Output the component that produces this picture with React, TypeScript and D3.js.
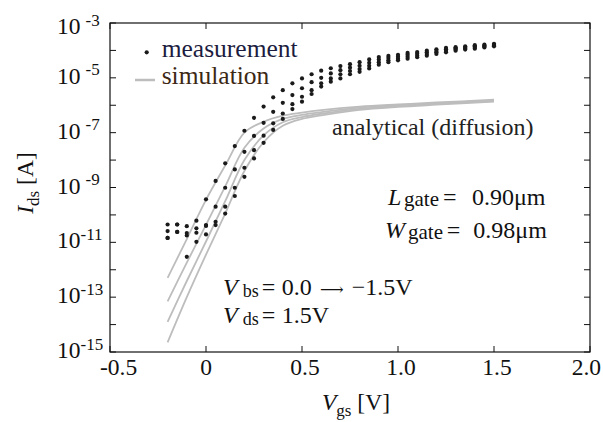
import React from "react";
import * as d3 from "d3";

// Gate voltage grid of the measured points [V]
const vgsMeas = [
  -0.2, -0.15, -0.1, -0.05, 0, 0.05, 0.1, 0.15, 0.2, 0.25, 0.3, 0.35, 0.4, 0.45,
  0.5, 0.55, 0.6, 0.65, 0.7, 0.75, 0.8, 0.85, 0.9, 0.95, 1.0, 1.05, 1.1, 1.15,
  1.2, 1.25, 1.3, 1.35, 1.4, 1.45, 1.5,
];
// Measured log10(Ids [A]) for the four body biases
const measLog1 = [
  -10.59, -10.35, -10.66, -10.21, -9.43, -8.76, -8.12, -7.49, -6.93, -6.46, -6.05, -5.71, -5.45, -5.2,
  -5.02, -4.87, -4.74, -4.65, -4.57, -4.5, -4.43, -4.33, -4.24, -4.2, -4.16, -4.09, -4.06, -4.01,
  -3.96, -3.91, -3.88, -3.85, -3.81, -3.79, -3.76,
];
const measLog2 = [
  -10.35, -10.62, -10.41, -10.49, -10.37, -9.7, -9.01, -8.34, -7.7, -7.12, -6.64, -6.24, -5.91, -5.63,
  -5.38, -5.16, -5.0, -4.84, -4.72, -4.63, -4.56, -4.45, -4.33, -4.28, -4.23, -4.16, -4.12, -4.07,
  -4.02, -3.96, -3.92, -3.89, -3.85, -3.82, -3.79,
];
const measLog3 = [
  -10.84, -10.35, -11.53, -10.65, -10.71, -10.25, -9.7, -9.01, -8.28, -7.64, -7.11, -6.66, -6.3, -5.96,
  -5.69, -5.45, -5.2, -5.02, -4.87, -4.75, -4.68, -4.56, -4.43, -4.36, -4.3, -4.23, -4.19, -4.13,
  -4.07, -4.02, -3.97, -3.93, -3.9, -3.86, -3.82,
];
const measLog4 = [
  -10.84, -10.62, -10.75, -10.98, -10.4, -10.37, -9.95, -9.31, -8.61, -7.94, -7.37, -6.9, -6.5, -6.14,
  -5.87, -5.59, -5.32, -5.14, -5.02, -4.87, -4.78, -4.66, -4.52, -4.43, -4.36, -4.3, -4.25, -4.19,
  -4.13, -4.07, -4.01, -3.97, -3.94, -3.89, -3.85,
];

// Simulation curves: gate voltage grid and log10(Ids [A])
const vgsSim = [-0.2, -0.1, 0, 0.1, 0.2, 0.3, 0.4, 0.5, 0.6, 0.8, 1.0, 1.2, 1.5];
const simLog1 = [-12.3, -10.88, -9.45, -8.2, -7.0, -6.6, -6.38, -6.27, -6.18, -6.05, -5.97, -5.9, -5.8];
const simLog2 = [-13.15, -11.74, -10.36, -8.96, -7.55, -6.85, -6.5, -6.35, -6.25, -6.09, -6.0, -5.93, -5.83];
const simLog3 = [-13.9, -12.41, -10.97, -9.5, -8.0, -7.1, -6.62, -6.43, -6.31, -6.13, -6.03, -5.95, -5.85];
const simLog4 = [-14.65, -13.0, -11.45, -9.95, -8.4, -7.35, -6.75, -6.5, -6.37, -6.17, -6.06, -5.98, -5.87];

// Axis ticks
const xTicks = [-0.5, 0, 0.5, 1.0, 1.5, 2.0];
const xTickLabels = ["-0.5", "0", "0.5", "1.0", "1.5", "2.0"];
const yTickExps = [-3, -4, -5, -6, -7, -8, -9, -10, -11, -12, -13, -14, -15];
const yLabelExps = [-3, -5, -7, -9, -11, -13, -15];

const TS: React.CSSProperties = { fontFamily: '"Liberation Serif"' };

export default function App() {
  const left = 110, right = 590, top = 23, bottom = 352;
  const x = d3.scaleLinear().domain([-0.5, 2.0]).range([left, right]);
  const y = d3.scaleLog().domain([1e-15, 1e-3]).range([bottom, top]);

  const line = d3
    .line<[number, number]>()
    .x((d) => x(d[0]))
    .y((d) => y(Math.pow(10, d[1])))
    .curve(d3.curveCatmullRom.alpha(0.5));

  const sims = [simLog1, simLog2, simLog3, simLog4];
  const meas = [measLog1, measLog2, measLog3, measLog4];
  const tickLen = 6;

  const xLabelPos = (t: number, i: number) => {
    if (i === 0) return { x: 100, anchor: "start" };
    if (i === xTicks.length - 1) return { x: 601, anchor: "end" };
    return { x: x(t) + (t === 0 ? 0 : 3), anchor: "middle" };
  };

  return (
    <svg width={603} height={422} style={{ position: "absolute", left: 0, top: 0, background: "#fff" }}>
      <rect x={0} y={0} width={603} height={422} fill="#fff" />
      {sims.map((s, i) => (
        <path
          key={"s" + i}
          d={line(vgsSim.map((v, j) => [v, s[j]] as [number, number])) || ""}
          fill="none"
          stroke="#bdbdbd"
          strokeWidth={1.8}
        />
      ))}
      {meas.map((m, i) =>
        m.map((val, j) => (
          <circle key={"m" + i + "-" + j} cx={x(vgsMeas[j])} cy={y(Math.pow(10, val))} r={2.1} fill="#1a1a1a" />
        ))
      )}

      <rect x={left} y={top} width={right - left} height={bottom - top} fill="none" stroke="#111" strokeWidth={1.2} />
      {xTicks.map((t, i) => {
        const p = xLabelPos(t, i);
        return (
          <g key={"xt" + i}>
            <line x1={x(t)} x2={x(t)} y1={bottom} y2={bottom - tickLen} stroke="#111" strokeWidth={1} />
            <line x1={x(t)} x2={x(t)} y1={top} y2={top + tickLen} stroke="#111" strokeWidth={1} />
            <text x={p.x} y={375} fontSize={23.5} textAnchor={p.anchor} fill="#111" style={TS}>
              {xTickLabels[i]}
            </text>
          </g>
        );
      })}
      {yTickExps.map((e) => (
        <g key={"yt" + e}>
          <line x1={left} x2={left + tickLen} y1={y(Math.pow(10, e))} y2={y(Math.pow(10, e))} stroke="#111" strokeWidth={1} />
          <line x1={right} x2={right - tickLen} y1={y(Math.pow(10, e))} y2={y(Math.pow(10, e))} stroke="#111" strokeWidth={1} />
        </g>
      ))}
      {yLabelExps.map((e) => (
        <text
          key={"yl" + e}
          x={57}
          y={y(Math.pow(10, e)) + (e === -3 ? 11 : 6)}
          fontSize={23.5}
          fill="#111"
          style={TS}
        >
          10
          <tspan fontSize={17} dy={-8.5} dx={String(e).length > 2 ? 0 : 5}>
            {String(e)}
          </tspan>
        </text>
      ))}

      <text x={356} y={410} fontSize={23.5} textAnchor="middle" fill="#111" style={TS}>
        <tspan fontStyle="italic">V</tspan>
        <tspan fontSize={17} dy={6}>gs</tspan>
        <tspan dy={-6}> [V]</tspan>
      </text>
      <text transform="translate(33,183) rotate(-90)" fontSize={23.5} textAnchor="middle" fill="#111" style={TS}>
        <tspan fontStyle="italic">I</tspan>
        <tspan fontSize={17} dy={6}>ds</tspan>
        <tspan dy={-6}> [A]</tspan>
      </text>

      <circle cx={146.7} cy={52.3} r={2.1} fill="#1a1a1a" />
      <text x={161.7} y={56.7} fontSize={25.5} fill="#1c1c40" style={TS}>measurement</text>
      <line x1={135} x2={155} y1={80} y2={80} stroke="#bdbdbd" strokeWidth={2.5} />
      <text x={161.7} y={83.5} fontSize={25.5} fill="#3c2814" style={TS}>simulation</text>

      <text x={332} y={135} fontSize={24} fill="#222" style={TS}>analytical (diffusion)</text>

      <text y={205} fontSize={24} fill="#111" style={TS}>
        <tspan x={388} fontStyle="italic">L</tspan>
        <tspan x={404} fontSize={21} dy={1}>gate</tspan>
        <tspan x={443} dy={-1}>=</tspan>
        <tspan x={472}>0.90μm</tspan>
      </text>
      <text y={238.3} fontSize={24} fill="#111" style={TS}>
        <tspan x={385} fontStyle="italic">W</tspan>
        <tspan x={408} fontSize={21} dy={1}>gate</tspan>
        <tspan x={446.7} dy={-1}>=</tspan>
        <tspan x={473.3}>0.98μm</tspan>
      </text>

      <text y={295} fontSize={24} fill="#111" style={TS}>
        <tspan x={223} fontStyle="italic">V</tspan>
        <tspan x={242.7} fontSize={18} dy={1.5}>bs</tspan>
        <tspan x={261.7} dy={-1.5}>=</tspan>
        <tspan x={281.7}>0.0</tspan>
        <tspan x={320} fontSize={16.5} style={{ fontFamily: '"DejaVu Serif"' }}>⟶</tspan>
        <tspan x={351.7}>−1.5V</tspan>
      </text>
      <text y={323.3} fontSize={24} fill="#111" style={TS}>
        <tspan x={223} fontStyle="italic">V</tspan>
        <tspan x={242.7} fontSize={18} dy={1.5}>ds</tspan>
        <tspan x={261.7} dy={-1.5}>=</tspan>
        <tspan x={281.7}>1.5V</tspan>
      </text>
    </svg>
  );
}
